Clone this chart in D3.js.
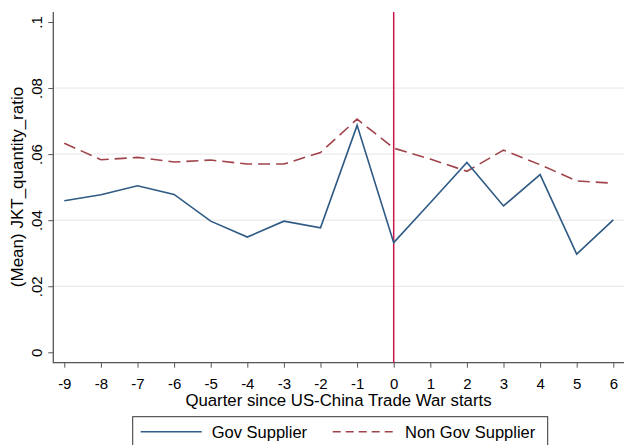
<!DOCTYPE html>
<html><head><meta charset="utf-8">
<script src="https://cdn.jsdelivr.net/npm/d3@7"></script>
<style>body{margin:0;background:#fff}svg{display:block}text{font-family:"Liberation Sans",Arial,sans-serif}</style>
</head><body>
<svg id="c" width="624" height="445"></svg>
<script>
const quarters = [-9,-8,-7,-6,-5,-4,-3,-2,-1,0,1,2,3,4,5,6];
const govSupplier = [0.0459,0.0477,0.0504,0.0478,0.0397,0.0349,0.0397,0.0377,0.0687,0.0332,0.0453,0.0575,0.0443,0.0538,0.0297,0.0401];
const nonGovSupplier = [0.0633,0.0583,0.0590,0.0576,0.0582,0.0570,0.0570,0.0605,0.0706,0.0618,0.0585,0.0548,0.0612,0.0568,0.0519,0.0512];
const yTicks = [0,0.02,0.04,0.06,0.08,0.1];
const yTickLabels = ["0",".02",".04",".06",".08",".1"];
const eventQuarter = 0;

const svg = d3.select("#c");
const pL = 53.3, pR = 624, pT = 12, pB = 362.7;
const x = d3.scaleLinear().domain([-9,6]).range([64.3,613.3]);
const y = d3.scaleLinear().domain([0,0.1]).range([352.3,22]);

// gridlines
svg.append("g").selectAll("line").data(yTicks.filter(d=>d>0 && d<0.1)).join("line")
  .attr("x1",pL).attr("x2",pR).attr("y1",d=>y(d)).attr("y2",d=>y(d))
  .attr("stroke","#e6e6e6").attr("stroke-width",1);

// y axis
const yAxis = svg.append("g").attr("transform",`translate(${pL},0)`)
  .call(d3.axisLeft(y).tickValues(yTicks).tickFormat((d,i)=>yTickLabels[i]).tickSize(5).tickSizeOuter(0));
yAxis.select(".domain").remove();
yAxis.selectAll(".tick line").attr("stroke","#555");
yAxis.selectAll(".tick text").attr("font-size",15).attr("fill","#000")
  .attr("x",0).attr("dy",0).attr("text-anchor","middle")
  .attr("transform",`translate(-11.8,0) rotate(-90)`);
svg.append("line").attr("x1",pL).attr("x2",pL).attr("y1",pT).attr("y2",pB+0.5).attr("stroke","#555").attr("stroke-width",1.3);

// x axis
const xAxis = svg.append("g").attr("transform",`translate(0,${pB})`)
  .call(d3.axisBottom(x).tickValues(quarters).tickFormat(d3.format("d")).tickSize(5).tickSizeOuter(0));
xAxis.select(".domain").remove();
xAxis.selectAll(".tick line").attr("stroke","#555");
xAxis.selectAll(".tick text").attr("font-size",15).attr("fill","#000").attr("y",0).attr("dy",0)
  .attr("transform","translate(0,26)").text(d=>d<0?"-"+Math.abs(d):d);
svg.append("line").attr("x1",pL).attr("x2",pR).attr("y1",pB).attr("y2",pB).attr("stroke","#555").attr("stroke-width",1.3);

// event line
svg.append("line").attr("x1",x(eventQuarter)).attr("x2",x(eventQuarter)).attr("y1",pT).attr("y2",pB)
  .attr("stroke","#c8174a").attr("stroke-width",1.5);

const line = d3.line().x((d,i)=>x(quarters[i])).y(d=>y(d));
svg.append("path").datum(nonGovSupplier).attr("d",line).attr("fill","none")
  .attr("stroke","#a0434b").attr("stroke-width",1.6).attr("stroke-dasharray","12,6");
svg.append("path").datum(govSupplier).attr("d",line).attr("fill","none")
  .attr("stroke","#2e5a84").attr("stroke-width",1.6);

// titles
svg.append("text").attr("transform","translate(23.3,187) rotate(-90)").attr("text-anchor","middle")
  .attr("font-size",17).text("(Mean) JKT_quantity_ratio");
svg.append("text").attr("x",338.5).attr("y",405.5).attr("text-anchor","middle")
  .attr("font-size",16.8).text("Quarter since US-China Trade War starts");

// legend
const lg = svg.append("g");
lg.append("rect").attr("x",132.7).attr("y",416.7).attr("width",415).attr("height",40)
  .attr("fill","#fff").attr("stroke","#333").attr("stroke-width",1);
lg.append("line").attr("x1",140.7).attr("x2",201.7).attr("y1",431.7).attr("y2",431.7)
  .attr("stroke","#2e5a84").attr("stroke-width",1.6);
lg.append("text").attr("x",211.7).attr("y",437.8).attr("font-size",16.5).text("Gov Supplier");
lg.append("line").attr("x1",332.7).attr("x2",392.7).attr("y1",431.7).attr("y2",431.7)
  .attr("stroke","#a0434b").attr("stroke-width",1.6).attr("stroke-dasharray","8,5");
lg.append("text").attr("x",405).attr("y",437.8).attr("font-size",16.5).text("Non Gov Supplier");
</script>
</body></html>
